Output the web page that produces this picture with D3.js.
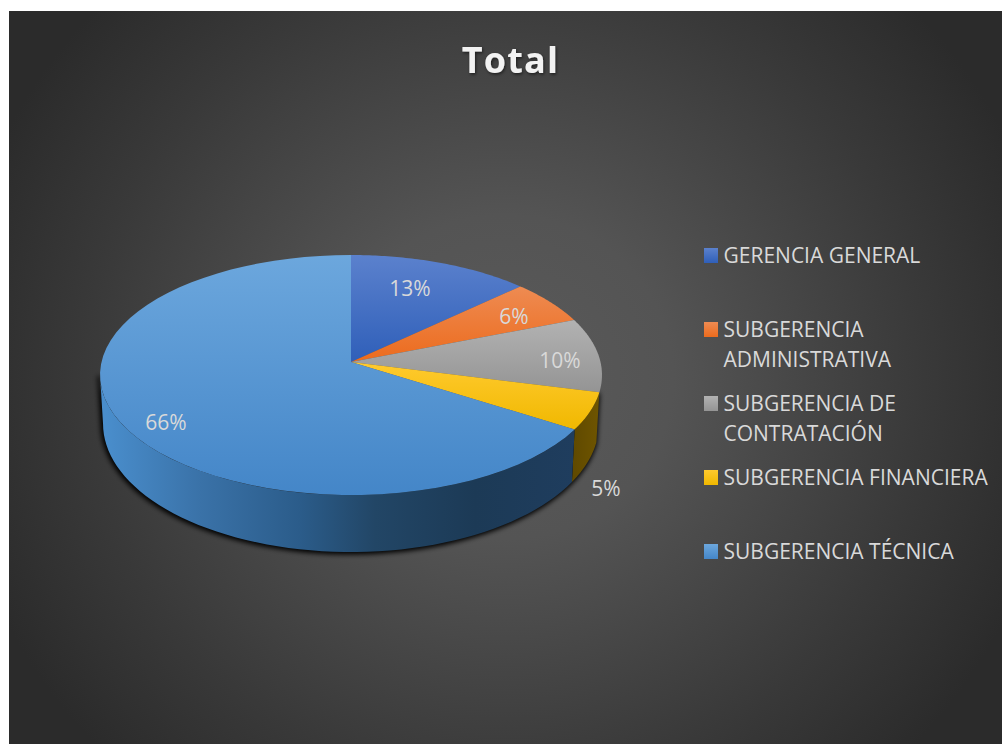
<!DOCTYPE html>
<html><head><meta charset="utf-8">
<script src="https://cdnjs.cloudflare.com/ajax/libs/d3/7.8.5/d3.min.js"></script>
<style>html,body{margin:0;padding:0;background:#fff}svg{display:block}</style>
</head><body><svg id="c" width="1002" height="744"></svg>
<script>
const titleText = "Total";
const categories = ["GERENCIA GENERAL","SUBGERENCIA ADMINISTRATIVA","SUBGERENCIA DE CONTRATACIÓN","SUBGERENCIA FINANCIERA","SUBGERENCIA TÉCNICA"];
const legendLines = [["GERENCIA GENERAL"],["SUBGERENCIA","ADMINISTRATIVA"],["SUBGERENCIA DE","CONTRATACIÓN"],["SUBGERENCIA FINANCIERA"],["SUBGERENCIA TÉCNICA"]];
const values = [13,6,10,5,66];
const topLight = ["#5b81cd","#ee8b52","#b2b2b2","#ffca2e","#6ca7dd"];
const topDark  = ["#2f5fb9","#ec6b1d","#949494","#f0b800","#4486c8"];

// layout
const W=1002,H=744;
const apex={x:351,y:362}, R=249.5, A=118.6, K=0.1083;
const labelPos={0:[410,288],1:[514,316],2:[560,360],3:[606,488],4:[166,422]};
const legendY=[255,329,403,477,551], lineGap=30;

const svg=d3.select("#c");
const defs=svg.append("defs");
const bg=defs.append("radialGradient").attr("id","bg").attr("gradientUnits","userSpaceOnUse")
  .attr("cx",0).attr("cy",0).attr("r",1)
  .attr("gradientTransform",`translate(505,377) scale(560,540)`);
[[0,"#5a5a5a"],[0.3,"#545454"],[0.5,"#484848"],[0.75,"#393939"],[1,"#2b2b2b"]].forEach(s=>bg.append("stop").attr("offset",s[0]).attr("stop-color",s[1]));
categories.forEach((c,i)=>{
  const g=defs.append("linearGradient").attr("id","t"+i).attr("x1",0).attr("y1",0).attr("x2",0).attr("y2",1);
  g.append("stop").attr("offset",0).attr("stop-color",topLight[i]);
  g.append("stop").attr("offset",1).attr("stop-color",topDark[i]);
});
const wb=defs.append("linearGradient").attr("id","wall").attr("gradientUnits","userSpaceOnUse").attr("x1",100).attr("x2",600).attr("y1",0).attr("y2",0);
[[0,"#4a8fce"],[0.2,"#3a72a8"],[0.4,"#2b5c8a"],[0.55,"#224666"],[0.75,"#1c3a56"],[0.95,"#1f3d5e"]].forEach(s=>wb.append("stop").attr("offset",s[0]).attr("stop-color",s[1]));
const wy=defs.append("linearGradient").attr("id","wally").attr("gradientUnits","userSpaceOnUse").attr("x1",570).attr("x2",600).attr("y1",0).attr("y2",0);
wy.append("stop").attr("offset",0).attr("stop-color","#5e4800");
wy.append("stop").attr("offset",1).attr("stop-color","#6f5500");
defs.append("filter").attr("id","blur").attr("x","-10%").attr("y","-10%").attr("width","120%").attr("height","120%")
  .append("feGaussianBlur").attr("stdDeviation",2.5);
const ts=defs.append("filter").attr("id","ts").attr("x","-10%").attr("y","-20%").attr("width","120%").attr("height","150%");
ts.append("feDropShadow").attr("dx",1).attr("dy",1.5).attr("stdDeviation",1.5).attr("flood-color","#000").attr("flood-opacity",0.55);

svg.append("rect").attr("x",9).attr("y",11).attr("width",W-9).attr("height",H-11).attr("fill","url(#bg)");

// perspective projection of the unit disc onto the page
const sx=d3.scaleLinear().domain([-1,1]).range([apex.x-R,apex.x+R]);
const sy=d3.scaleLinear().domain([-1,1]).range([apex.y-A,apex.y+A]);
function rimTop(a,r=1){const u=r*Math.sin(a),v=-r*Math.cos(a),w=1-K*v;return [sx(u/w),sy(v/w)];}
function rimBottom(a){const p=rimTop(a);return [apex.x+0.988*(p[0]-apex.x),p[1]+47.9+0.0687*(p[1]-apex.y)];}
const arcs=d3.pie().sort(null).value(d=>d)(values);
const pathLine=d3.line();
const steps=(a0,a1,n=60)=>d3.range(0,n+1).map(i=>a0+(a1-a0)*i/n);

// the visible front of the drum ends at the left extreme of the projected rim
const frontEnd=2*Math.PI-Math.acos(-K);
function wallPts(a0,a1){
  const t=steps(a0,a1);
  return t.map(a=>rimTop(a)).concat(t.slice().reverse().map(a=>rimBottom(a)));
}

// shadow
const blueArc=arcs[4], yellowArc=arcs[3];
svg.append("path").attr("d",pathLine(wallPts(yellowArc.startAngle,frontEnd))+"Z")
  .attr("fill","#000").attr("stroke","#000").attr("stroke-width",3)
  .attr("filter","url(#blur)").attr("transform","translate(-1,1)");

// walls
svg.append("path").attr("d",pathLine(wallPts(yellowArc.startAngle,yellowArc.endAngle))+"Z").attr("fill","url(#wally)");
svg.append("path").attr("d",pathLine(wallPts(blueArc.startAngle,frontEnd))+"Z").attr("fill","url(#wall)");

// top faces
svg.append("g").selectAll("path").data(arcs).join("path")
  .attr("d",d=>pathLine([rimTop(0,0)].concat(steps(d.startAngle,d.endAngle).map(a=>rimTop(a))))+"Z")
  .attr("fill",d=>`url(#t${d.index})`);

// labels
const fs="'Open Sans',sans-serif";
svg.append("g").selectAll("text").data(arcs).join("text")
  .attr("x",d=>labelPos[d.index][0]).attr("y",d=>labelPos[d.index][1]+8)
  .attr("text-anchor","middle").attr("font-family",fs).attr("font-size",21).attr("fill","#d9d9d9")
  .text(d=>d.value+"%");

// title
svg.append("text").attr("x",510.5).attr("y",73).attr("text-anchor","middle")
  .attr("font-family",fs).attr("font-weight",700).attr("font-size",36)
  .attr("letter-spacing",1.2).attr("fill","#f2f2f2").attr("filter","url(#ts)").text(titleText);

// legend
const lg=svg.append("g").selectAll("g").data(categories).join("g");
lg.append("rect").attr("x",704).attr("y",(d,i)=>legendY[i]-7).attr("width",14).attr("height",15)
  .attr("fill",(d,i)=>`url(#t${i})`);
lg.each(function(d,i){
  const t=d3.select(this).append("text").attr("font-family",fs).attr("font-size",21).attr("fill","#d9d9d9");
  legendLines[i].forEach((l,j)=>t.append("tspan").attr("x",723.5).attr("y",legendY[i]+8+j*lineGap).text(l));
});
</script></body></html>
